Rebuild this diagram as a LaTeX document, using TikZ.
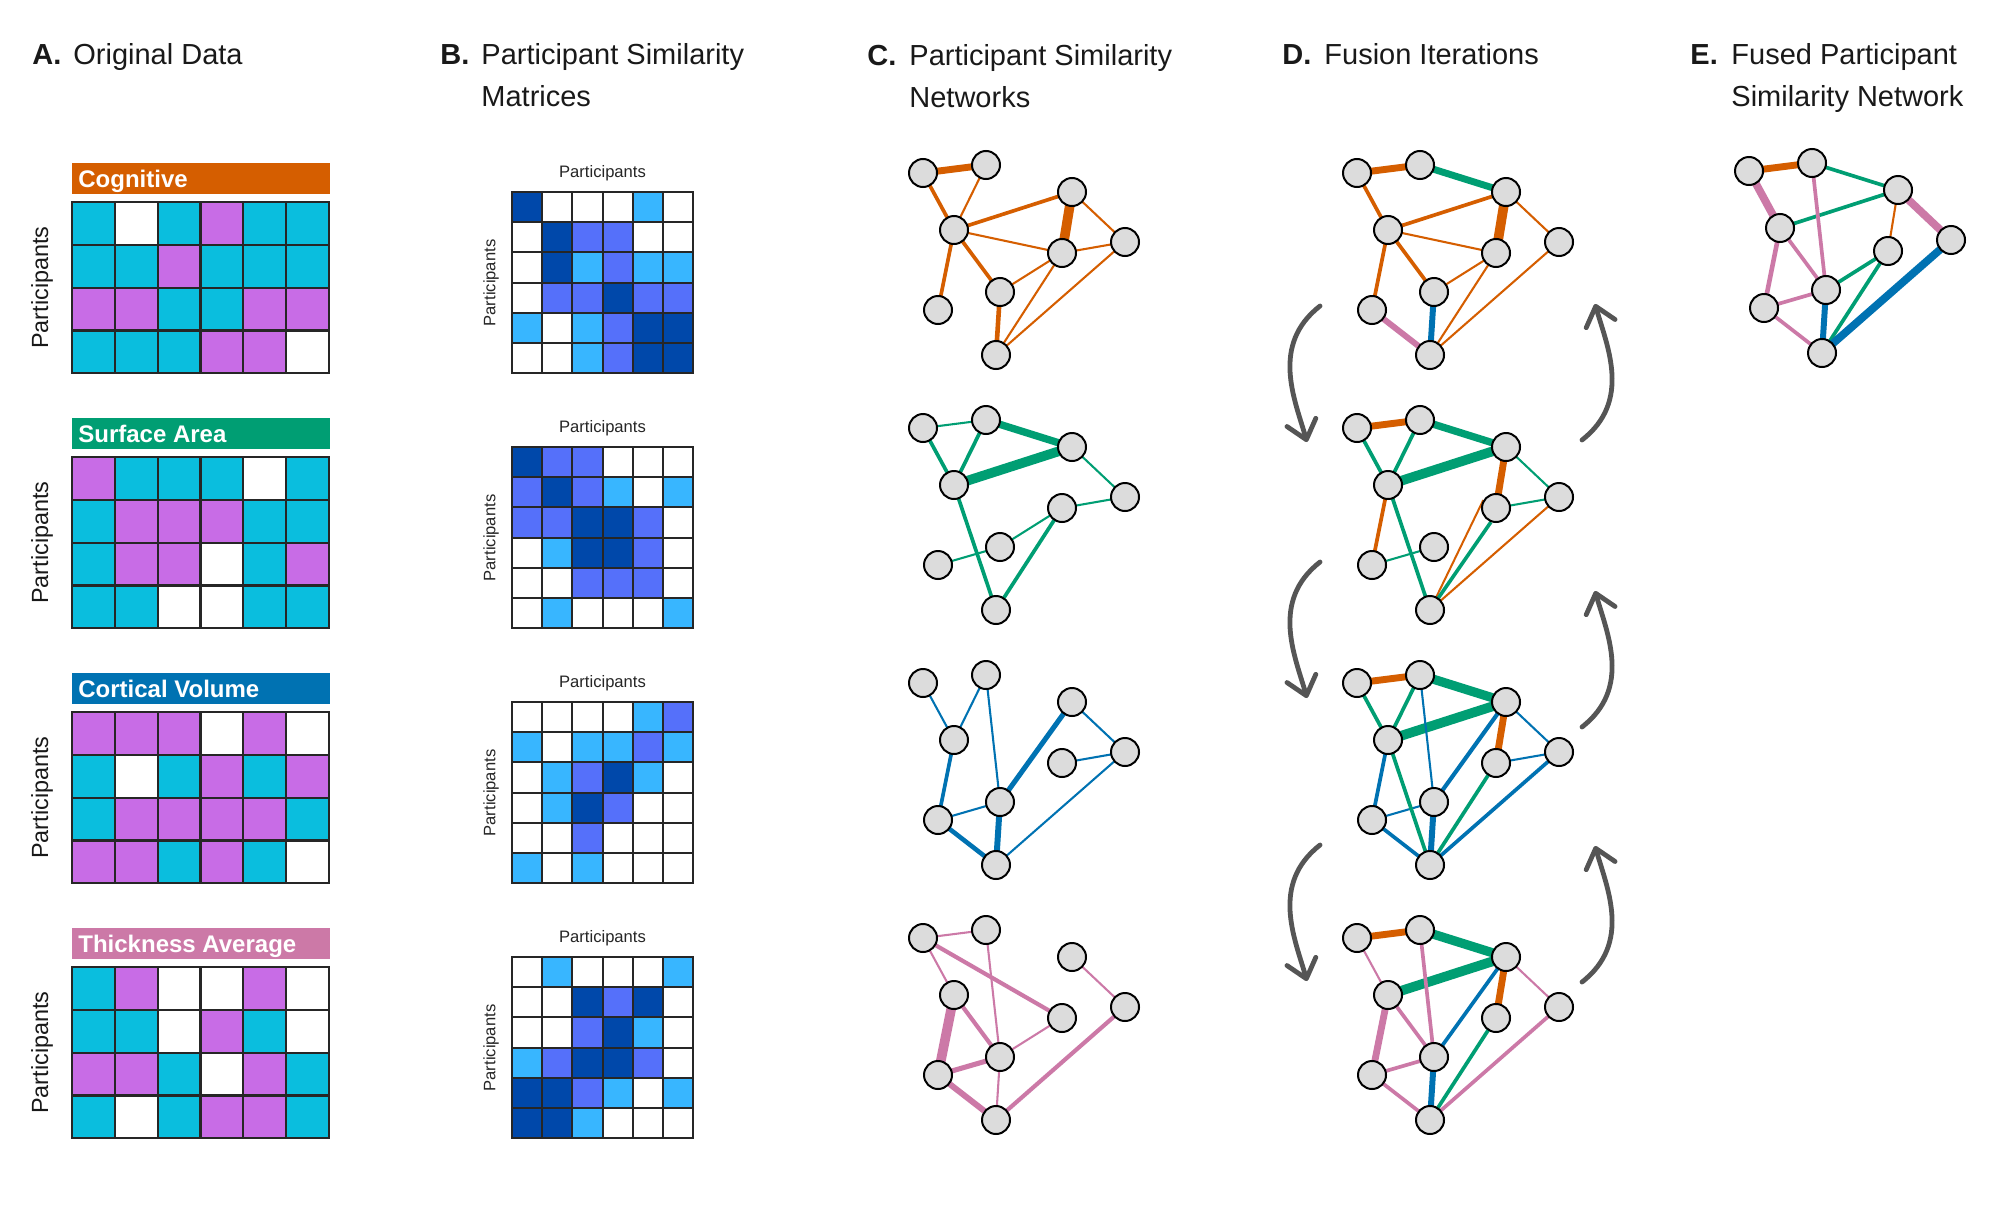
\documentclass[tikz,border=0pt]{standalone}
\usepackage{fontspec}
\setmainfont{Liberation Sans}
\usetikzlibrary{arrows.meta}
\definecolor{oc}{RGB}{213,94,0}
\definecolor{gc}{RGB}{0,158,115}
\definecolor{bc}{RGB}{0,114,178}
\definecolor{pc}{RGB}{204,121,167}
\definecolor{cellC}{RGB}{10,190,222}
\definecolor{cellM}{RGB}{200,108,230}
\definecolor{cellW}{RGB}{255,255,255}
\definecolor{matD}{RGB}{0,72,170}
\definecolor{matM}{RGB}{85,112,250}
\definecolor{matL}{RGB}{56,182,255}
\definecolor{matW}{RGB}{255,255,255}
\definecolor{nodegray}{RGB}{220,220,220}
\definecolor{arrgray}{RGB}{85,85,85}
\pgfdeclarelayer{bg}
\pgfdeclarelayer{edges}
\pgfsetlayers{bg,edges,main}

\newcommand\agrid[2]{%
  \foreach \rw [count=\r from 0] in {#2}{%
    \foreach \cl [count=\q from 0] in \rw{%
      \filldraw[fill=cell\cl, draw=black!85, line width=1.1pt]
        ({72+42.8*\q},{#1+42.8*\r}) rectangle ++(42.8,42.8);
    }}}
\newcommand\bgrid[2]{%
  \foreach \rw [count=\r from 0] in {#2}{%
    \foreach \cl [count=\q from 0] in \rw{%
      \filldraw[fill=mat\cl, draw=black!85, line width=1pt]
        ({512+30.17*\q},{#1+30.17*\r}) rectangle ++(30.17,30.17);
    }}}
\newcommand\mknet[3]{%
  \foreach \nm/\px/\py in {a/923/173,b/986/165,c/1072/192,d/954/230,e/1125/242,f/1062/253,g/1000/292,h/938/310,i/996/355}{%
    \node[pnode] (#1\nm) at ({\px+#2},{\py+#3}) {};
  }}
\newcommand\netedges[2]{%
  \begin{pgfonlayer}{edges}
  \foreach \u/\v/\w/\col in {#2}{%
    \draw[line width={1.15*\w pt}, color=\col] (#1\u.center) -- (#1\v.center);
  }
  \end{pgfonlayer}}

\begin{document}
\begin{tikzpicture}[x=0.5pt,y=-0.5pt,
  pnode/.style={circle, draw=black, line width=1pt, fill=nodegray, minimum size=14pt, inner sep=0pt},
  ttl/.style={anchor=base west, inner sep=0pt, text=black!90, font=\fontsize{14.5}{17}\selectfont},
  bartxt/.style={anchor=base west, inner sep=0pt, text=white, font=\bfseries\fontsize{12}{14}\selectfont},
  alab/.style={inner sep=0pt, rotate=90, text=black!90, font=\fontsize{11.7}{14}\selectfont},
  smlab/.style={inner sep=0pt, text=black!85, font=\fontsize{8.3}{10}\selectfont},
  arr/.style={draw=arrgray, line width=2.4pt, line cap=round, -{Straight Barb[length=9pt,width=15pt,round]}}]
\useasboundingbox (0,0) rectangle (2000,1204);
\begin{pgfonlayer}{bg}
\fill[white] (0,0) rectangle (2000,1204);
\end{pgfonlayer}

% titles
\node[ttl] (tAl) at (32,65) {\textbf{A.}};
\node[ttl] (tAt) at (73,65) {Original Data};
\node[ttl] (tBl) at (440,65) {\textbf{B.}};
\node[ttl] (tBt) at (481,65) {Participant Similarity};
\node[ttl] (tBt2) at (481,106) {Matrices};
\node[ttl] (tCl) at (867,66) {\textbf{C.}};
\node[ttl] (tCt) at (909,66) {Participant Similarity};
\node[ttl] (tCt2) at (909,107) {Networks};
\node[ttl] (tDl) at (1282,65) {\textbf{D.}};
\node[ttl] (tDt) at (1324,65) {Fusion Iterations};
\node[ttl] (tEl) at (1690,65) {\textbf{E.}};
\node[ttl] (tEt) at (1731,65) {Fused Participant};
\node[ttl] (tEt2) at (1731,106) {Similarity Network};

% panel A
\fill[oc] (72,163) rectangle (330,194);
\node[bartxt] (lA1) at (78,187) {Cognitive};
\agrid{202}{{C,W,C,M,C,C},{C,C,M,C,C,C},{M,M,C,C,M,M},{C,C,C,M,M,W}}
\node[alab] (pA1) at (42,287.5) {Participants};

\fill[gc] (72,418) rectangle (330,449);
\node[bartxt] (lA2) at (78,442) {Surface Area};
\agrid{457}{{M,C,C,C,W,C},{C,M,M,M,C,C},{C,M,M,W,C,M},{C,C,W,W,C,C}}
\node[alab] (pA2) at (42,542.5) {Participants};

\fill[bc] (72,673) rectangle (330,704);
\node[bartxt] (lA3) at (78,697) {Cortical Volume};
\agrid{712}{{M,M,M,W,M,W},{C,W,C,M,C,M},{C,M,M,M,M,C},{M,M,C,M,C,W}}
\node[alab] (pA3) at (42,797.5) {Participants};

\fill[pc] (72,928) rectangle (330,959);
\node[bartxt] (lA4) at (78,952) {Thickness Average};
\agrid{967}{{C,M,W,W,M,W},{C,C,W,M,C,W},{M,M,C,W,M,C},{C,W,C,M,M,C}}
\node[alab] (pA4) at (42,1052.5) {Participants};

% panel B
\bgrid{192}{{D,W,W,W,L,W},{W,D,M,M,W,W},{W,D,L,M,L,L},{W,M,M,D,M,M},{L,W,L,M,D,D},{W,W,L,M,D,D}}
\node[smlab] (pB1) at (602.5,173) {Participants};
\node[smlab, rotate=90] (pB1v) at (491,283) {Participants};

\bgrid{447}{{D,M,M,W,W,W},{M,D,M,L,W,L},{M,M,D,D,M,W},{W,L,D,D,M,W},{W,W,M,M,M,W},{W,L,W,W,W,L}}
\node[smlab] (pB2) at (602.5,428) {Participants};
\node[smlab, rotate=90] (pB2v) at (491,538) {Participants};

\bgrid{702}{{W,W,W,W,L,M},{L,W,L,L,M,L},{W,L,M,D,L,W},{W,L,D,M,W,W},{W,W,M,W,W,W},{L,W,L,W,W,W}}
\node[smlab] (pB3) at (602.5,683) {Participants};
\node[smlab, rotate=90] (pB3v) at (491,793) {Participants};

\bgrid{957}{{W,L,W,W,W,L},{W,W,D,M,D,W},{W,W,M,D,L,W},{L,M,D,D,M,W},{D,D,M,L,W,L},{D,D,L,W,W,W}}
\node[smlab] (pB4) at (602.5,938) {Participants};
\node[smlab, rotate=90] (pB4v) at (491,1048) {Participants};

% panel C
\mknet{c1-}{0}{0}
\mknet{c2-}{0}{255}
\mknet{c3-}{0}{510}
\mknet{c4-}{0}{765}
\netedges{c1-}{a/b/3/oc, a/d/1.6/oc, b/d/0.9/oc, d/c/1.6/oc, d/f/0.9/oc, d/g/1.6/oc, d/h/1.6/oc, c/f/4.2/oc, c/e/0.9/oc, f/e/0.9/oc, g/f/0.9/oc, i/g/2/oc, i/f/0.9/oc, i/e/0.9/oc}
\netedges{c2-}{a/b/0.9/gc, a/d/1.6/gc, b/c/3.2/gc, b/d/1.6/gc, d/c/4.2/gc, c/e/0.9/gc, e/f/0.9/gc, f/g/0.9/gc, g/h/0.9/gc, d/i/1.6/gc, f/i/1.6/gc}
\netedges{c3-}{a/d/0.9/bc, b/d/0.9/bc, b/g/0.9/bc, h/g/0.9/bc, d/h/1.6/bc, c/g/2.2/bc, c/e/0.9/bc, e/f/0.9/bc, e/i/0.9/bc, h/i/2/bc, g/i/2.6/bc}
\netedges{c4-}{a/b/0.9/pc, b/g/0.9/pc, a/f/1.8/pc, a/d/0.9/pc, d/h/4.2/pc, d/g/1.8/pc, h/g/2.2/pc, h/i/2.6/pc, g/i/0.9/pc, f/g/0.9/pc, c/e/0.9/pc, e/i/1.8/pc}

% panel D
\mknet{d1-}{434}{0}
\mknet{d2-}{434}{255}
\mknet{d3-}{434}{510}
\mknet{d4-}{434}{765}
\netedges{d1-}{a/d/1.6/oc, d/c/1.6/oc, d/f/0.9/oc, d/g/1.6/oc, d/h/1.6/oc, c/e/0.9/oc, f/g/0.9/oc, f/i/0.9/oc, e/i/0.9/oc, c/f/4.2/oc, a/b/3/oc, b/c/3/gc, g/i/2.6/bc, h/i/2.6/pc}
\netedges{d2-}{a/b/3/oc, a/d/1.6/gc, b/c/3.2/gc, b/d/1.6/gc, d/c/4.2/gc, c/e/0.9/gc, c/f/3/oc, d/h/1.6/oc, d/i/1.6/gc, h/g/0.9/gc, f/e/0.9/gc, e/i/0.9/oc}
\begin{pgfonlayer}{edges}
\draw[line width=1pt, oc] (d2-i.center) -- (d2-f.148);
\draw[line width=1.8pt, gc] (d2-i.center) -- (d2-f.250);
\end{pgfonlayer}
\netedges{d3-}{a/b/3/oc, a/d/1.6/gc, b/c/4/gc, b/d/1.6/gc, d/c/4.2/gc, b/g/0.9/bc, c/e/0.9/bc, d/h/1.6/bc, h/g/0.9/bc, d/i/1.6/gc, h/i/1.6/bc, f/i/1.6/gc, g/c/1.8/bc, e/f/0.9/bc, e/i/1.6/bc, g/i/2.6/bc, c/f/3/oc}
\netedges{d4-}{a/b/3/oc, b/c/4/gc, d/c/4.2/gc, a/d/0.9/pc, b/g/1.6/pc, c/g/1.6/bc, c/e/0.9/pc, d/h/3/pc, d/g/1.6/pc, h/g/1.6/pc, h/i/1.6/pc, f/i/1.6/gc, e/i/1.6/pc, g/i/2.6/bc, c/f/3/oc}

% iteration arrows
\foreach \k/\ys/\ye in {1/306/442, 2/562/698, 3/845/981}{
  \coordinate (la\k s) at (1320,\ys);
  \coordinate (la\k e) at (1307,\ye);
  \draw[arr] (la\k s) .. controls (1270,\ys+39) and (1295,\ys+94) .. (la\k e);
}
\foreach \k/\ys/\ye in {1/440/304, 2/727/591, 3/982/846}{
  \coordinate (ra\k s) at (1582,\ys);
  \coordinate (ra\k e) at (1595,\ye);
  \draw[arr] (ra\k s) .. controls (1632,\ys-39) and (1607,\ys-94) .. (ra\k e);
}

% panel E
\mknet{e-}{826}{-2}
\netedges{e-}{a/b/3/oc, a/d/3.4/pc, b/c/1.6/gc, d/c/1.6/gc, b/g/1.6/pc, c/f/0.9/oc, c/e/3.4/pc, d/h/2/pc, d/g/1.6/pc, h/g/1.6/pc, h/i/1.6/pc, g/f/1.6/gc, f/i/1.6/gc, g/i/2.6/bc, e/i/3.4/bc}
\end{tikzpicture}
\end{document}
